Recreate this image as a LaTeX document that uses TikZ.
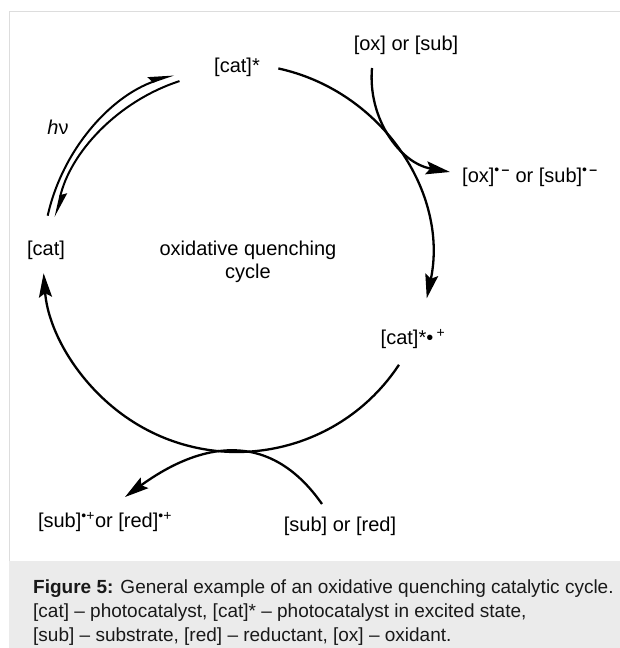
\documentclass[tikz,border=0pt]{standalone}
\usepackage{fontspec}
\setmainfont{Liberation Sans}
\usetikzlibrary{arrows.meta, positioning, calc}
\definecolor{framegray}{HTML}{DDDDDD}
\definecolor{bandgray}{HTML}{EBEBEB}

\begin{document}
\begin{tikzpicture}[
    x=1pt, y=1pt,
    species/.style={inner sep=0pt, font=\fontsize{20}{23}\selectfont, align=center},
    captext/.style={inner sep=0pt, font=\fontsize{19}{24}\selectfont, align=left, text=black!90},
    arrow/.style={-{Stealth[length=24pt, width=13pt, inset=4pt]}, line width=2.3pt},
    harp/.style={-{Stealth[length=22pt, width=12pt, inset=3pt, harpoon]}, line width=2pt}
]
\useasboundingbox (0,0) rectangle (620,648);
% frame and caption band
\fill[bandgray] (9,0) rectangle (620,87);
\draw[framegray, line width=1pt] (9,87) -- (9,636) -- (620,636);

\coordinate (O) at (237,390);
\node[species] (catstar) at (237,581) {[cat]*};
\node[species] (cat) at (46,398) {[cat]};
\node[species] (catox) at (413,309) {[cat]*•\,\textsuperscript{+}};
\node[species] (hnu) at (58,521) {\textit{h}ν};
\node[species] (cyc) at ($(O)+(11,-3.5)$) {oxidative quenching\\cycle};
\node[species] (oxsub) at (406,603) {[ox] or [sub]};
\node[species, anchor=west] (oxred) at (462,471) {[ox]\textsuperscript{•\,\textbf{–}} or [sub]\textsuperscript{•\,\textbf{–}}};
\node[species] (subox) at (105,126) {[sub]\textsuperscript{•+}or [red]\textsuperscript{•+}};
\node[species] (subred) at (340,122) {[sub] or [red]};

% cycle
\draw[arrow] ([shift={(77.7:194)}]O) arc[start angle=77.7, end angle=-12, radius=194];
\draw[arrow] ([shift={(-33.4:194)}]O) arc[start angle=-33.4, end angle=-175.5, radius=194];
\draw[harp] ([shift={(167.4:194)}]O) arc[start angle=167.4, end angle=109, radius=194];
\draw[harp] ([shift={(108:186)}]O) arc[start angle=108, end angle=167.3, radius=186];

% quencher in and out
\draw[arrow] ([shift={(-34,-23)}]oxsub.center) to[out=-95, in=170] ([xshift=-12pt, yshift=5pt]oxred.west);
\draw[arrow] ([shift={(-18,22)}]subred.center) to[out=125, in=36, looseness=1.2] ([shift={(20,25)}]subox.center);

% caption
\node[captext, anchor=north west] (caption) at (33,68) {\textbf{Figure 5:} General example of an oxidative quenching catalytic cycle.\\\relax
[cat] – photocatalyst, [cat]* – photocatalyst in excited state,\\\relax
[sub] – substrate, [red] – reductant, [ox] – oxidant.};
\end{tikzpicture}
\end{document}
